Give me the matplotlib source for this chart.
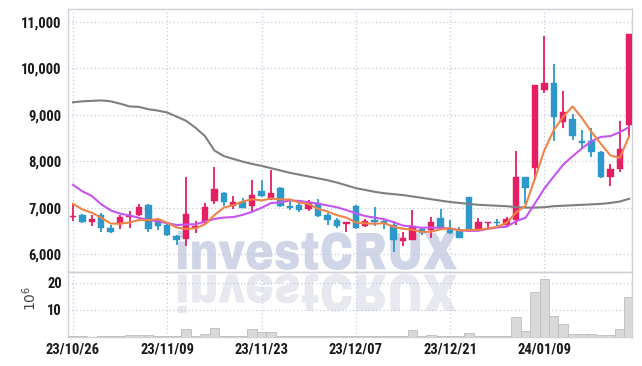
import matplotlib
matplotlib.use("Agg")
import matplotlib.pyplot as plt
import numpy as np
from matplotlib.textpath import TextPath
from matplotlib.patches import PathPatch
from matplotlib.font_manager import FontProperties, fontManager
from matplotlib.transforms import Affine2D

# ---------------- data ----------------
tick_labels = ["23/10/26", "23/11/09", "23/11/23", "23/12/07", "23/12/21", "24/01/09"]
tick_index = [0, 10, 20, 30, 40, 50]

opens = [6790, 6830, 6690, 6850, 6570, 6650, 6790, 6850, 7060, 6740,
         6630, 6380, 6330, 6550, 6670, 7150, 7320, 7030, 7110, 7030,
         7360, 7190, 7430, 7020, 7060, 6970, 7090, 6830, 6730, 6640,
         7030, 6600, 6730, 6720, 6630, 6270, 6310, 6540, 6520, 6770,
         6540, 6510, 7220, 6510, 6660, 6700, 6630, 6730, 7650, 7850,
         9530, 9690, 8840, 8900, 8440, 8440, 8190, 7670, 7830, 8780]
highs = [7080, 6870, 6830, 6890, 6620, 6850, 6930, 7070, 7080, 6780,
         6650, 6400, 7670, 6720, 7100, 7880, 7330, 7260, 7210, 7590,
         7590, 7800, 7450, 7190, 7090, 7170, 7190, 6890, 6780, 6680,
         7060, 6750, 7010, 6740, 6710, 6480, 6940, 6580, 6800, 6960,
         6730, 6580, 7220, 6770, 6700, 6750, 6790, 8220, 7650, 9650,
         10700, 10100, 9520, 9010, 8670, 8720, 8220, 7930, 8870, 10740]
lows = [6720, 6660, 6600, 6480, 6450, 6530, 6570, 6810, 6480, 6510,
        6380, 6200, 6180, 6460, 6640, 7080, 7030, 6960, 6990, 6900,
        7230, 7160, 7020, 6940, 6900, 6930, 6800, 6630, 6560, 6480,
        6540, 6580, 6610, 6530, 6040, 6170, 6300, 6420, 6340, 6510,
        6430, 6340, 6490, 6490, 6540, 6610, 6610, 6630, 7070, 7600,
        9480, 8430, 8710, 8450, 8280, 8090, 7640, 7470, 7770, 8550]
closes = [6810, 6690, 6760, 6550, 6470, 6800, 6820, 7020, 6530, 6600,
          6400, 6300, 6870, 6610, 7020, 7390, 7110, 7130, 7000, 7270,
          7260, 7320, 7030, 7000, 6940, 7090, 6810, 6740, 6600, 6680,
          6570, 6710, 6700, 6660, 6310, 6340, 6610, 6460, 6680, 6570,
          6460, 6350, 6530, 6700, 6700, 6660, 6760, 7650, 7420, 9650,
          9690, 8950, 9070, 8540, 8390, 8200, 7670, 7830, 8260, 10740]

ma_orange = [7080, 6960, 6890, 6780, 6656, 6654, 6680, 6732, 6728, 6754,
             6674, 6570, 6540, 6556, 6640, 6838, 7000, 7052, 7130, 7180,
             7154, 7196, 7176, 7176, 7110, 7076, 6974, 6916, 6836, 6784,
             6680, 6660, 6652, 6664, 6590, 6544, 6524, 6476, 6480, 6532,
             6556, 6504, 6518, 6522, 6548, 6588, 6670, 6894, 7038, 7628,
             8234, 8672, 8956, 9180, 8928, 8630, 8374, 8126, 8070, 8540]
ma_purple = [7490, 7350, 7250, 7070, 6940, 6870, 6830, 6780, 6730, 6705,
             6664, 6625, 6636, 6642, 6697, 6756, 6785, 6796, 6843, 6910,
             6996, 7098, 7114, 7153, 7145, 7115, 7085, 7046, 7006, 6947,
             6878, 6817, 6784, 6750, 6687, 6612, 6592, 6564, 6572, 6561,
             6550, 6514, 6497, 6501, 6540, 6572, 6587, 6706, 6780, 7088,
             7411, 7671, 7925, 8109, 8278, 8432, 8523, 8541, 8625, 8734]
ma_grey = [9270, 9290, 9300, 9310, 9290, 9240, 9180, 9170, 9120, 9090,
           9050, 8960, 8870, 8720, 8540, 8230, 8110, 8050, 7990, 7940,
           7900, 7850, 7800, 7750, 7710, 7670, 7630, 7590, 7540, 7480,
           7420, 7380, 7340, 7310, 7290, 7270, 7240, 7210, 7180, 7150,
           7120, 7100, 7080, 7060, 7050, 7040, 7030, 7010, 7000, 7000,
           7010, 7030, 7040, 7050, 7060, 7070, 7080, 7100, 7130, 7190]
volume_m = [0.25, 0.2, 0.1, 0.3, 0.3, 0.3, 0.6, 0.6, 0.6, 0.3,
            0.2, 0.2, 2.9, 0.5, 1.2, 3.4, 0.5, 0.2, 0.2, 2.9,
            1.7, 1.9, 0.5, 0.2, 0.2, 0.2, 0.5, 0.2, 0.2, 0.3,
            0.5, 0.2, 0.2, 0.4, 0.2, 0.2, 2.7, 0.2, 0.9, 0.5,
            0.2, 0.2, 1.6, 0.2, 0.2, 0.2, 0.2, 7.4, 2.3, 16.6,
            21.3, 7.9, 4.9, 1.2, 1.2, 1.2, 0.9, 0.9, 3.0, 14.8]
price_ticks = [6000, 7000, 8000, 9000, 10000, 11000]
vol_ticks = [10, 20]

# ---------------- fonts ----------------
available = set(f.name for f in fontManager.ttflist)


def pick(cands, default="DejaVu Sans"):
    for cnd in cands:
        if cnd in available:
            return cnd
    return default


TICKFONT = pick(["Roboto Condensed", "Archivo Narrow", "PT Sans Narrow",
                 "Liberation Sans Narrow", "Arial Narrow", "Barlow Condensed",
                 "Oswald"])
WMFONT = pick(["Archivo Black", "DejaVu Sans"])

# ---------------- style ----------------
UP = "#e61e64"
DOWN = "#2e98ca"
GRID = "#c5cadc"
SPINE = "#d0d0d8"

W, H = 642, 366
fig = plt.figure(figsize=(W / 100, H / 100), dpi=100)
fig.patch.set_facecolor("white")

L, R = 68, 632
ax = fig.add_axes([L / W, (H - 272) / H, (R - L) / W, (272 - 9) / H])
axv = fig.add_axes([L / W, (H - 337) / H, (R - L) / W, (337 - 272) / H], sharex=ax)
for a in (ax, axv):
    a.patch.set_alpha(0)
    for s in a.spines.values():
        s.set_color(SPINE)
        s.set_linewidth(1.0)
    a.tick_params(length=0)
    a.grid(True, color=GRID, linestyle=(0, (1, 2)), linewidth=0.9)
    a.set_axisbelow(True)

# watermark (behind axes)
prop = FontProperties(family=WMFONT, weight="bold")
tp = TextPath((0, 0), "investCRUX", size=100, prop=prop)
bb = tp.get_extents()
sx = (457 - 178) / bb.width
sy = 39 / bb.height
t_main = Affine2D().translate(-bb.x0, -bb.y0).scale(sx, sy).translate(178, H - 270)
t_refl = Affine2D().translate(-bb.x0, -bb.y0).scale(sx, -sy).translate(178, H - 274)
fig.add_artist(PathPatch(tp, transform=t_main, facecolor="#d0d6e8", edgecolor="none", zorder=-5))
fig.add_artist(PathPatch(tp, transform=t_refl, facecolor="#e8e9f0", edgecolor="none", zorder=-5))

x = np.arange(len(closes))
o = np.array(opens); c = np.array(closes); hi = np.array(highs); lo = np.array(lows)
up = c >= o
cols = np.where(up, UP, DOWN)
bottoms = np.minimum(o, c)
heights = np.maximum(np.abs(c - o), 25)

ax.vlines(x, lo, hi, colors=cols, linewidth=1.3, zorder=3)
ax.bar(x, heights, bottom=bottoms, width=0.68, color=cols, edgecolor=cols, linewidth=0.3, zorder=4)

ax.plot(x, ma_grey, color="#7f7f7f", linewidth=1.5, zorder=5)
ax.plot(x, ma_purple, color="#c655ee", linewidth=1.5, zorder=5)
ax.plot(x, ma_orange, color="#ef8447", linewidth=1.5, zorder=6)

ax.set_ylim(5612, 11280)
ax.set_yticks(price_ticks)
ax.set_yticklabels([f"{v:,}" for v in price_ticks])
ax.set_xlim(-0.53, 59.3)
ax.tick_params(axis="x", labelbottom=False)
ax.spines["bottom"].set_color("#cccccc")

axv.bar(x, volume_m, width=1.0, color="#d9d9d9", edgecolor="#bdbdbd", linewidth=0.6, zorder=3)
axv.set_ylim(0, 24.0)
axv.set_yticks(vol_ticks)
axv.set_xticks(tick_index)
axv.set_xticklabels(tick_labels)
ax.set_xticks(tick_index)

for a in (ax, axv):
    for lab in a.get_yticklabels() + a.get_xticklabels():
        lab.set_family([TICKFONT, "DejaVu Sans"])
        lab.set_fontweight("bold")
        lab.set_fontsize(10.5)
        lab.set_color("#1a1a1a")
    a.tick_params(axis="y", pad=4.5)
axv.tick_params(axis="x", pad=4)

fig.text(30 / W, 1 - 298 / H, r"$10^6$", rotation=90, ha="center", va="center",
         fontsize=10, color="#444444")

fig.savefig("out.png", dpi=100, facecolor="white")
